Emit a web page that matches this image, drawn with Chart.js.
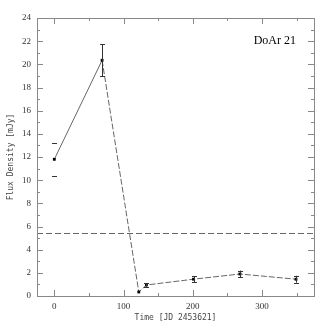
<!DOCTYPE html>
<html>
<head>
<meta charset="utf-8">
<script src="https://cdn.jsdelivr.net/npm/chart.js@4/dist/chart.umd.min.js"></script>
<style>
html,body{margin:0;padding:0;background:#fff;}
#wrap{width:332px;height:332px;position:relative;}
</style>
</head>
<body>
<div id="wrap"><canvas id="c" width="332" height="332"></canvas></div>
<script>
// Data
const times = [0, 69, 122, 133, 201, 268, 349];
const flux = [11.8, 20.35, 0.35, 0.95, 1.45, 1.9, 1.45];
const fluxErr = [1.4, 1.4, 0, 0.15, 0.25, 0.3, 0.3];
const threshold = 5.4;
const xTicks = [0, 100, 200, 300];
const xMinorTicks = [50, 150, 250, 350];
const yTicks = [0, 2, 4, 6, 8, 10, 12, 14, 16, 18, 20, 22, 24];
const yMinorTicks = [1, 3, 5, 7, 9, 11, 13, 15, 17, 19, 21, 23];
const sourceName = 'DoAr 21';
const xTitle = 'Time [JD 2453621]';
const yTitle = 'Flux Density [mJy]';

const points = times.map((t, i) => ({x: t, y: flux[i]}));

const framePlugin = {
  id: 'frame',
  afterDatasetsDraw(chart) {
    const {ctx, chartArea: a, scales: {x, y}} = chart;
    ctx.save();
    // threshold dashed line
    ctx.strokeStyle = '#666';
    ctx.lineWidth = 1;
    ctx.setLineDash([6, 3]);
    const ty = Math.round(y.getPixelForValue(threshold)) + 0.5;
    ctx.beginPath(); ctx.moveTo(a.left, ty); ctx.lineTo(a.right, ty); ctx.stroke();
    ctx.setLineDash([]);
    // error bars
    ctx.strokeStyle = '#333';
    times.forEach((t, i) => {
      const e = fluxErr[i];
      if (!e) return;
      const px = Math.round(x.getPixelForValue(t)) + 0.5;
      const y1 = y.getPixelForValue(flux[i] + e);
      const y0 = y.getPixelForValue(flux[i] - e);
      ctx.beginPath();
      if (i !== 0) { ctx.moveTo(px, y1); ctx.lineTo(px, y0); }
      ctx.moveTo(px - 2.5, Math.round(y1) + 0.5); ctx.lineTo(px + 2.5, Math.round(y1) + 0.5);
      ctx.moveTo(px - 2.5, Math.round(y0) + 0.5); ctx.lineTo(px + 2.5, Math.round(y0) + 0.5);
      ctx.stroke();
    });
    // frame
    ctx.strokeStyle = '#888';
    ctx.strokeRect(Math.round(a.left) + 0.5, Math.round(a.top) + 0.5, Math.round(a.right - a.left), Math.round(a.bottom - a.top));
    // ticks
    ctx.beginPath();
    const tickX = (v, len) => {
      const px = Math.round(x.getPixelForValue(v)) + 0.5;
      ctx.moveTo(px, a.bottom); ctx.lineTo(px, a.bottom - len);
      ctx.moveTo(px, a.top); ctx.lineTo(px, a.top + len);
    };
    const tickY = (v, len) => {
      const py = Math.round(y.getPixelForValue(v)) + 0.5;
      ctx.moveTo(a.left, py); ctx.lineTo(a.left + len, py);
      ctx.moveTo(a.right, py); ctx.lineTo(a.right - len, py);
    };
    xTicks.forEach(v => tickX(v, 6));
    xMinorTicks.forEach(v => tickX(v, 3));
    yTicks.forEach(v => tickY(v, 6));
    yMinorTicks.forEach(v => tickY(v, 3));
    ctx.stroke();
    // texts
    ctx.fillStyle = '#000';
    ctx.font = '12px "Liberation Serif"';
    ctx.textAlign = 'right';
    ctx.textBaseline = 'middle';
    ctx.fillText(sourceName, 296, 41);
    ctx.fillStyle = '#444';
    ctx.font = '8px "DejaVu Sans Mono"';
    ctx.textAlign = 'center';
    ctx.fillText(xTitle, (a.left + a.right) / 2, 318);
    ctx.translate(11, (a.top + a.bottom) / 2);
    ctx.rotate(-Math.PI / 2);
    ctx.fillText(yTitle, 0, 0);
    ctx.restore();
  }
};

new Chart(document.getElementById('c'), {
  type: 'scatter',
  data: {
    datasets: [{
      data: points,
      showLine: true,
      borderColor: '#666',
      borderWidth: 1,
      backgroundColor: '#000',
      pointBackgroundColor: '#000',
      pointBorderColor: '#000',
      pointStyle: 'rect',
      pointRadius: 2,
      pointBorderWidth: 0,
      segment: {
        borderDash: c => c.p0DataIndex === 0 ? [] : [6, 2]
      }
    }]
  },
  options: {
    responsive: false,
    animation: false,
    devicePixelRatio: 1,
    layout: {padding: {left: 0, top: 18, right: 18, bottom: 0}},
    plugins: {legend: {display: false}, tooltip: {enabled: false}},
    scales: {
      x: {
        type: 'linear', min: -25, max: 375,
        afterBuildTicks: s => { s.ticks = xTicks.map(v => ({value: v})); },
        afterFit: s => { s.height = 36; },
        grid: {display: false, drawTicks: false, tickLength: 0},
        border: {display: false},
        ticks: {padding: 5, color: '#333', font: {family: 'Liberation Serif', size: 9}, maxRotation: 0}
      },
      y: {
        type: 'linear', min: 0, max: 24,
        afterBuildTicks: s => { s.ticks = yTicks.map(v => ({value: v})); },
        afterFit: s => { s.width = 37; },
        grid: {display: false, drawTicks: false, tickLength: 0},
        border: {display: false},
        ticks: {padding: 6, color: '#333', font: {family: 'Liberation Serif', size: 9}}
      }
    }
  },
  plugins: [framePlugin]
});
</script>
</body>
</html>
